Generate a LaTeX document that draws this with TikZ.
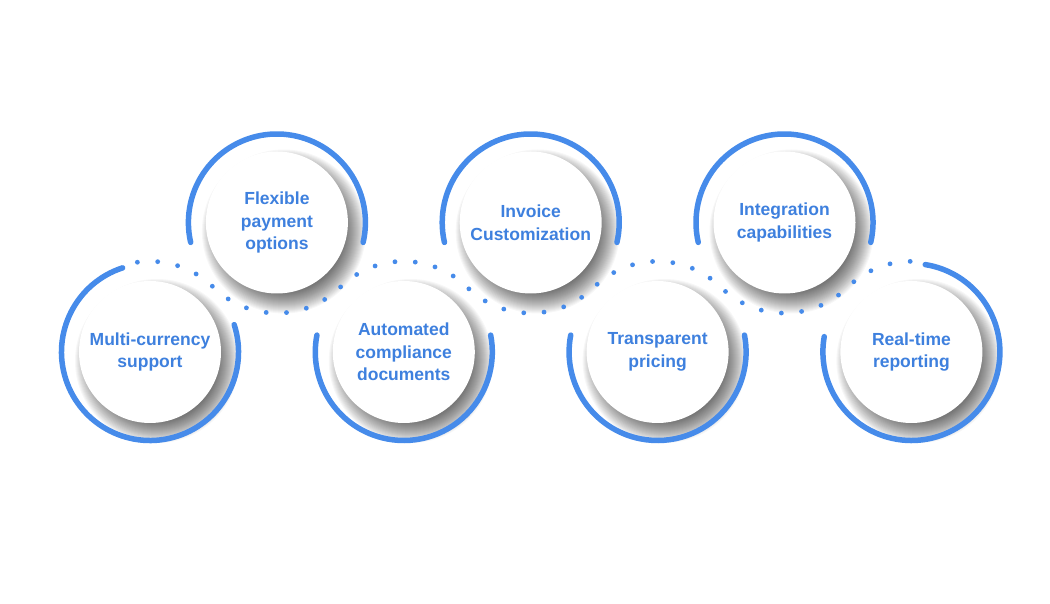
\documentclass[tikz,border=0pt]{standalone}
\usepackage{fontspec}
\setmainfont{Liberation Sans}
\usetikzlibrary{calc}

\definecolor{ringblue}{RGB}{70,139,234}
\definecolor{textblue}{RGB}{62,128,222}

\tikzset{
  ring/.style={draw=ringblue, line width=5.5pt, line cap=round},
  dotline/.style={draw=ringblue, line width=4.8pt, line cap=round,
    dash pattern=on 0pt off 20.35pt},
  bubble/.style={circle, fill=white, minimum size=142pt, inner sep=0pt,
    align=center, text=textblue,
    font=\bfseries\fontsize{17.5}{22.5}\selectfont},
  softshadow/.style={fill=black, opacity=0.032},
}

\begin{document}
\begin{tikzpicture}[x=1pt, y=1pt]
  \useasboundingbox (0,0) rectangle (1050,603);
  \fill[white] (0,0) rectangle (1050,603);

  % centres, lower row and upper row
  \coordinate (c1) at (150,251);
  \coordinate (c2) at (276.9,380.5);
  \coordinate (c3) at (403.8,251);
  \coordinate (c4) at (530.7,380.5);
  \coordinate (c5) at (657.6,251);
  \coordinate (c6) at (784.5,380.5);
  \coordinate (c7) at (911.4,251);

  % blurred shadows
  \foreach \c in {c1,c2,c3,c4,c5,c6,c7}
    \foreach \k in {60,...,82}
      \fill[softshadow] ($(\c)+(7,-9)$) circle[radius=\k];

  % white discs with their labels
  \node[bubble] (multi) at (c1) {Multi-currency\\support};
  \node[bubble] (flexible) at (c2) {Flexible\\payment\\options};
  \node[bubble] (compliance) at (c3) {Automated\\compliance\\documents};
  \node[bubble] (invoice) at (c4) {Invoice\\Customization};
  \node[bubble] (pricing) at (c5) {Transparent\\pricing};
  \node[bubble] (integration) at (c6) {Integration\\capabilities};
  \node[bubble] (reporting) at (c7) {Real-time\\reporting};

  % open rings
  \draw[ring] ($(c1)+(108:88.5)$) arc[start angle=108, end angle=378, radius=88.5];
  \draw[ring] ($(c2)+(-13:88.5)$) arc[start angle=-13, end angle=193, radius=88.5];
  \draw[ring] ($(c3)+(169:88.5)$) arc[start angle=169, end angle=371, radius=88.5];
  \draw[ring] ($(c4)+(-13:88.5)$) arc[start angle=-13, end angle=193, radius=88.5];
  \draw[ring] ($(c5)+(169:88.5)$) arc[start angle=169, end angle=371, radius=88.5];
  \draw[ring] ($(c6)+(-13:88.5)$) arc[start angle=-13, end angle=193, radius=88.5];
  \draw[ring] ($(c7)+(81:88.5)$) arc[start angle=81, end angle=-190, radius=88.5];

  % dotted wave through the gaps
  \draw[dotline] ($(c1)+(98:90.66)$)
    arc[start angle=98, end angle=45.6, radius=90.66]
    arc[start angle=225.6, end angle=314.4, radius=90.66]
    arc[start angle=134.4, end angle=45.6, radius=90.66]
    arc[start angle=225.6, end angle=314.4, radius=90.66]
    arc[start angle=134.4, end angle=45.6, radius=90.66]
    arc[start angle=225.6, end angle=314.4, radius=90.66]
    arc[start angle=134.4, end angle=89, radius=90.66];
\end{tikzpicture}
\end{document}
